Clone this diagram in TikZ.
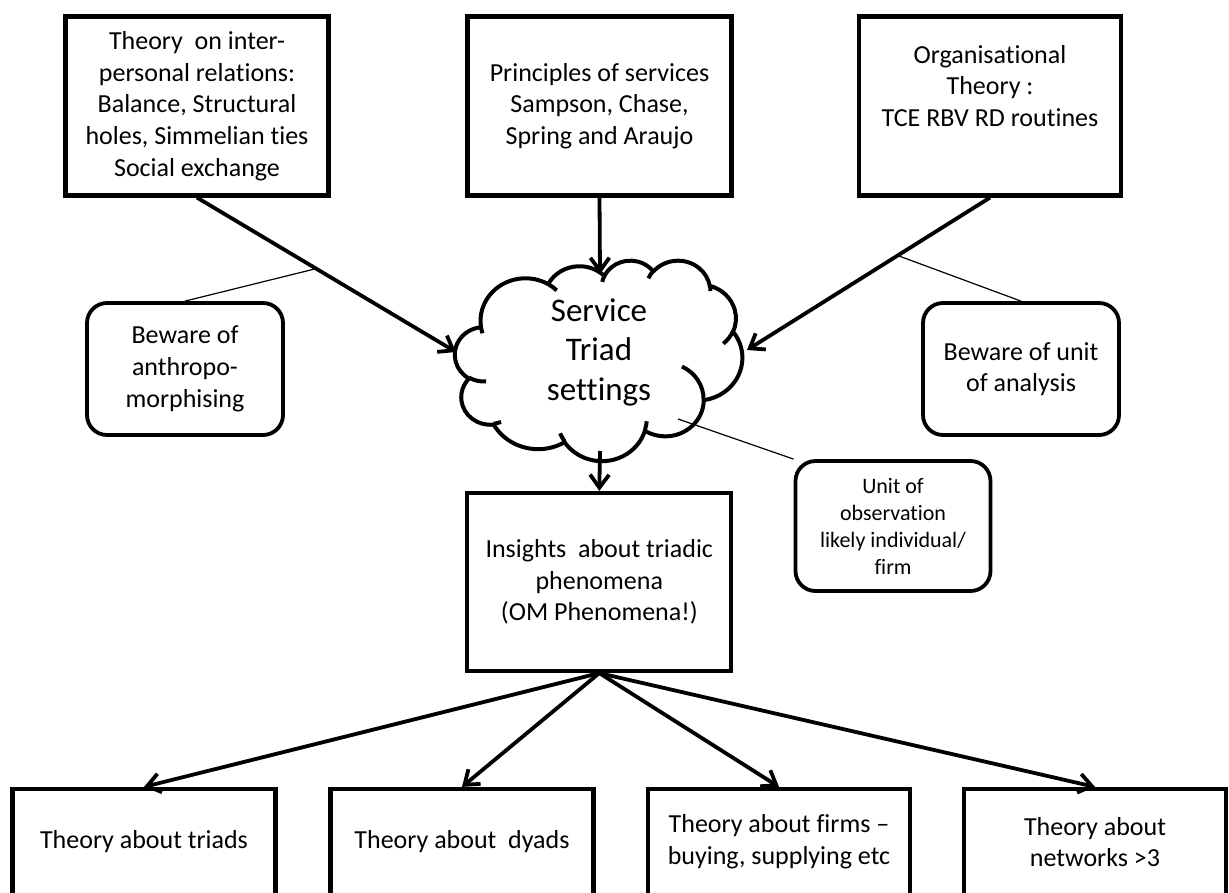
\documentclass[tikz,border=0pt]{standalone}
\usepackage{fontspec}
\setmainfont{Carlito}[Ligatures={TeX,NoCommon}]
\usetikzlibrary{arrows.meta,calc}
\newcommand\mkarc[6]{%
  \pgfmathsetmacro#1{atan2((#3)*sin(#5),(#4)*cos(#5))}%
  \pgfmathsetmacro#2{atan2((#3)*sin((#5)+(#6)),(#4)*cos((#5)+(#6)))}%
  \pgfmathsetmacro#2{#1+mod(#2-#1+720,360)}%
}
\begin{document}
\begin{tikzpicture}[x=1pt,y=-1pt,
  tbox/.style={draw, line width=4.2pt, align=center, inner sep=0pt, font=\fontsize{26}{31.7}\selectfont},
  rbox/.style={tbox, line width=3.8pt, rounded corners=20pt},
  txt/.style={align=center, inner sep=0pt, font=\fontsize{26}{31.7}\selectfont},
  arr/.style={line width=3.8pt, -{Straight Barb[length=13pt,width=19pt]}},
  note/.style={line width=1.2pt},
  cloudline/.style={line width=4pt, line join=round},
  crease/.style={line width=4pt}
]
\fill[white] (0,0) rectangle (1229,892);
\useasboundingbox (0,0) rectangle (1229,892);

% top boxes
\node[tbox, minimum width=263, minimum height=179] (b1) at (197,106)
  {Theory~ on inter-\\personal relations:\\Balance, Structural\\holes, Simmelian ties\\Social exchange};
\node[tbox, minimum width=264, minimum height=179] (b2) at (599.5,106)
  {Principles of services\\Sampson, Chase,\\Spring and Araujo};
\node[tbox, minimum width=262, minimum height=179] (b3) at (990,106) {};
\node[txt] (b3t) at (990,86) {Organisational\\Theory :\\TCE RBV RD routines};

% cloud outline (PowerPoint cloud)
\mkarc\CAs\CAe{6.753}{9.190}{-190.4875}{123.7805}
\mkarc\CBs\CBe{5.333}{7.267}{-144.1024}{89.9452}
\mkarc\CCs\CCe{4.365}{5.945}{-145.8079}{99.7230}
\mkarc\CDs\CDe{4.857}{6.595}{-130.9861}{117.2417}
\mkarc\CEs\CEe{5.333}{7.273}{-78.7089}{109.0269}
\mkarc\CFs\CFe{6.775}{9.220}{-46.2673}{130.2690}
\mkarc\CGs\CGe{5.785}{7.867}{0.6250}{114.0333}
\mkarc\CHs\CHe{6.752}{9.215}{22.4516}{115.1726}
\mkarc\CIs\CIe{7.720}{10.543}{66.2426}{75.7110}
\mkarc\CJs\CJe{4.360}{5.918}{-274.9421}{146.7356}
\mkarc\CKs\CKe{4.345}{5.945}{-246.8285}{152.5189}
% creases
\mkarc\KAs\KAe{4.345}{5.945}{86.742}{26.4295}
\mkarc\KBs\KBe{4.360}{5.918}{73.6105}{11.4475}
\mkarc\KCs\KCe{6.752}{9.215}{137.6242}{14.0811}
\mkarc\KDs\KDe{6.752}{9.215}{6.4533}{15.9984}
\mkarc\KEs\KEe{5.785}{7.867}{-70.2924}{70.9174}
\mkarc\KFs\KFe{5.333}{7.273}{30.3180}{27.7515}
\mkarc\KGs\KGe{4.857}{6.595}{-13.7443}{14.8589}
\mkarc\KHs\KHe{4.857}{6.595}{-149.1815}{18.1954}
\mkarc\KIs\KIe{4.365}{5.945}{-163.4943}{17.6864}
\mkarc\KJs\KJe{6.753}{9.190}{-66.7070}{12.3194}
\mkarc\KKs\KKe{6.753}{9.190}{157.6544}{11.8582}
\begin{scope}[shift={(455,260)}, x=6.65pt, y=-4.64pt]
  \draw[cloudline, fill=white] (3.900,14.370)
    arc[start angle=\CAs, end angle=\CAe, x radius=6.753, y radius=9.190]
    arc[start angle=\CBs, end angle=\CBe, x radius=5.333, y radius=7.267]
    arc[start angle=\CCs, end angle=\CCe, x radius=4.365, y radius=5.945]
    arc[start angle=\CDs, end angle=\CDe, x radius=4.857, y radius=6.595]
    arc[start angle=\CEs, end angle=\CEe, x radius=5.333, y radius=7.273]
    arc[start angle=\CFs, end angle=\CFe, x radius=6.775, y radius=9.220]
    arc[start angle=\CGs, end angle=\CGe, x radius=5.785, y radius=7.867]
    arc[start angle=\CHs, end angle=\CHe, x radius=6.752, y radius=9.215]
    arc[start angle=\CIs, end angle=\CIe, x radius=7.720, y radius=10.543]
    arc[start angle=\CJs, end angle=\CJe, x radius=4.360, y radius=5.918]
    arc[start angle=\CKs, end angle=\CKe, x radius=4.345, y radius=5.945]
    -- cycle;
  \draw[crease] (4.693,26.177) arc[start angle=\KAs, end angle=\KAe, x radius=4.345, y radius=5.945];
  \draw[crease] (6.928,34.899) arc[start angle=\KBs, end angle=\KBe, x radius=4.360, y radius=5.918];
  \draw[crease] (16.478,39.090) arc[start angle=\KCs, end angle=\KCe, x radius=6.752, y radius=9.215];
  \draw[crease] (28.827,34.751) arc[start angle=\KDs, end angle=\KDe, x radius=6.752, y radius=9.215];
  \draw[crease] (34.129,22.954) arc[start angle=\KEs, end angle=\KEe, x radius=5.785, y radius=7.867];
  \draw[crease] (41.798,15.354) arc[start angle=\KFs, end angle=\KFe, x radius=5.333, y radius=7.273];
  \draw[crease] (38.324,5.426) arc[start angle=\KGs, end angle=\KGe, x radius=4.857, y radius=6.595];
  \draw[crease] (29.078,3.952) arc[start angle=\KHs, end angle=\KHe, x radius=4.857, y radius=6.595];
  \draw[crease] (22.141,4.720) arc[start angle=\KIs, end angle=\KIe, x radius=4.365, y radius=5.945];
  \draw[crease] (14.000,5.192) arc[start angle=\KJs, end angle=\KJe, x radius=6.753, y radius=9.190];
  \draw[crease] (4.127,15.789) arc[start angle=\KKs, end angle=\KKe, x radius=6.753, y radius=9.190];
\end{scope}
\node[txt, font=\fontsize{33}{39.5}\selectfont] (cloud) at (599,352) {Service\\Triad\\settings};
\coordinate (cN) at (600,274);
\coordinate (cS) at (600,451);
\coordinate (cW) at (456,352);
\coordinate (cE) at (747,350);
\coordinate (cUo) at (678,419);

% side notes
\node[rbox, minimum width=196, minimum height=132] (ba) at (185,369)
  {Beware of\\anthropo-\\morphising};
\node[rbox, minimum width=196, minimum height=132] (bu) at (1021,369)
  {Beware of unit\\of analysis};
\node[rbox, minimum width=195, minimum height=130, font=\fontsize{22}{27}\selectfont] (uo) at (893,526)
  {Unit of\\observation\\likely individual/\\firm};

% insights
\node[tbox, minimum width=264, minimum height=178] (ins) at (599.3,582)
  {Insights~ about triadic\\phenomena\\(OM Phenomena!)};

% bottom boxes
\node[tbox, minimum width=263, minimum height=106] (bA) at (144,842) {Theory about triads};
\node[tbox, minimum width=263, minimum height=106] (bB) at (462,842) {Theory about~ dyads};
\node[tbox, minimum width=262, minimum height=106] (bC) at (779,842) {Theory about firms –\\buying, supplying etc};
\node[tbox, minimum width=262, minimum height=106] (bD) at (1095,842) {Theory about\\networks >3};

% connectors
\draw[arr] (b1.south) -- coordinate[pos=0.46] (p1) (cW);
\draw[arr] (b2.south) -- (cN);
\draw[arr] (b3.south) -- coordinate[pos=0.38] (p3) (cE);
\draw[arr] (cS) -- (ins.north);
\draw[note] (p1) -- (ba.north);
\draw[note] (p3) -- (bu.north);
\draw[note] (cUo) -- (uo.north west);
\draw[arr] (ins.south) -- (bA.north);
\draw[arr] (ins.south) -- (bB.north);
\draw[arr] (ins.south) -- (bC.north);
\draw[arr] (ins.south) -- (bD.north);
\end{tikzpicture}
\end{document}
